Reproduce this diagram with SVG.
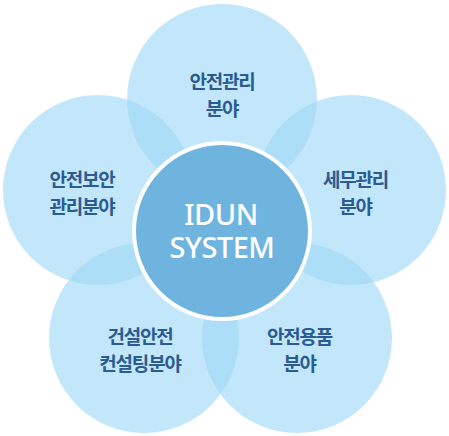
<svg xmlns="http://www.w3.org/2000/svg" width="449" height="436" viewBox="0 0 449 436">
  <style>
    .petal { fill: rgb(160,217,247); fill-opacity: 0.64; }
    .lbl { font-family: "Noto Sans CJK KR", "Noto Sans", sans-serif; font-size: 19px; font-weight: 700; fill: #2b5b91; text-anchor: middle; letter-spacing: -1.2px; }
    .core { fill: #6fb4de; stroke: #ffffff; stroke-width: 4; }
    .coreTxt { font-family: "Noto Sans", "Open Sans", sans-serif; font-size: 29px; font-weight: 500; fill: #ffffff; text-anchor: middle; letter-spacing: -0.5px; }
  </style>
  <rect width="449" height="436" fill="#ffffff"/>
  <g id="connectors"></g>
  <g id="node-top">
    <circle class="petal" cx="222" cy="99" r="95"/>
  </g>
  <g id="node-left">
    <circle class="petal" cx="98" cy="190" r="95"/>
  </g>
  <g id="node-right">
    <circle class="petal" cx="351" cy="190" r="95"/>
  </g>
  <g id="node-bottom-left">
    <circle class="petal" cx="144" cy="338" r="95"/>
  </g>
  <g id="node-bottom-right">
    <circle class="petal" cx="297" cy="338" r="95"/>
  </g>
  <g id="labels">
    <text class="lbl" x="222" y="89">안전관리</text>
    <text class="lbl" x="222" y="116">분야</text>
    <text class="lbl" x="82" y="187">안전보안</text>
    <text class="lbl" x="82" y="214">관리분야</text>
    <text class="lbl" x="355.5" y="187">세무관리</text>
    <text class="lbl" x="355.5" y="214">분야</text>
    <text class="lbl" x="140" y="344">건설안전</text>
    <text class="lbl" x="140" y="371">컨설팅분야</text>
    <text class="lbl" x="299.5" y="344">안전용품</text>
    <text class="lbl" x="299.5" y="371">분야</text>
  </g>
  <g id="node-center">
    <circle class="core" cx="222" cy="231" r="88"/>
    <text class="coreTxt" x="221" y="225">IDUN</text>
    <text class="coreTxt" x="222" y="258">SYSTEM</text>
  </g>
</svg>
